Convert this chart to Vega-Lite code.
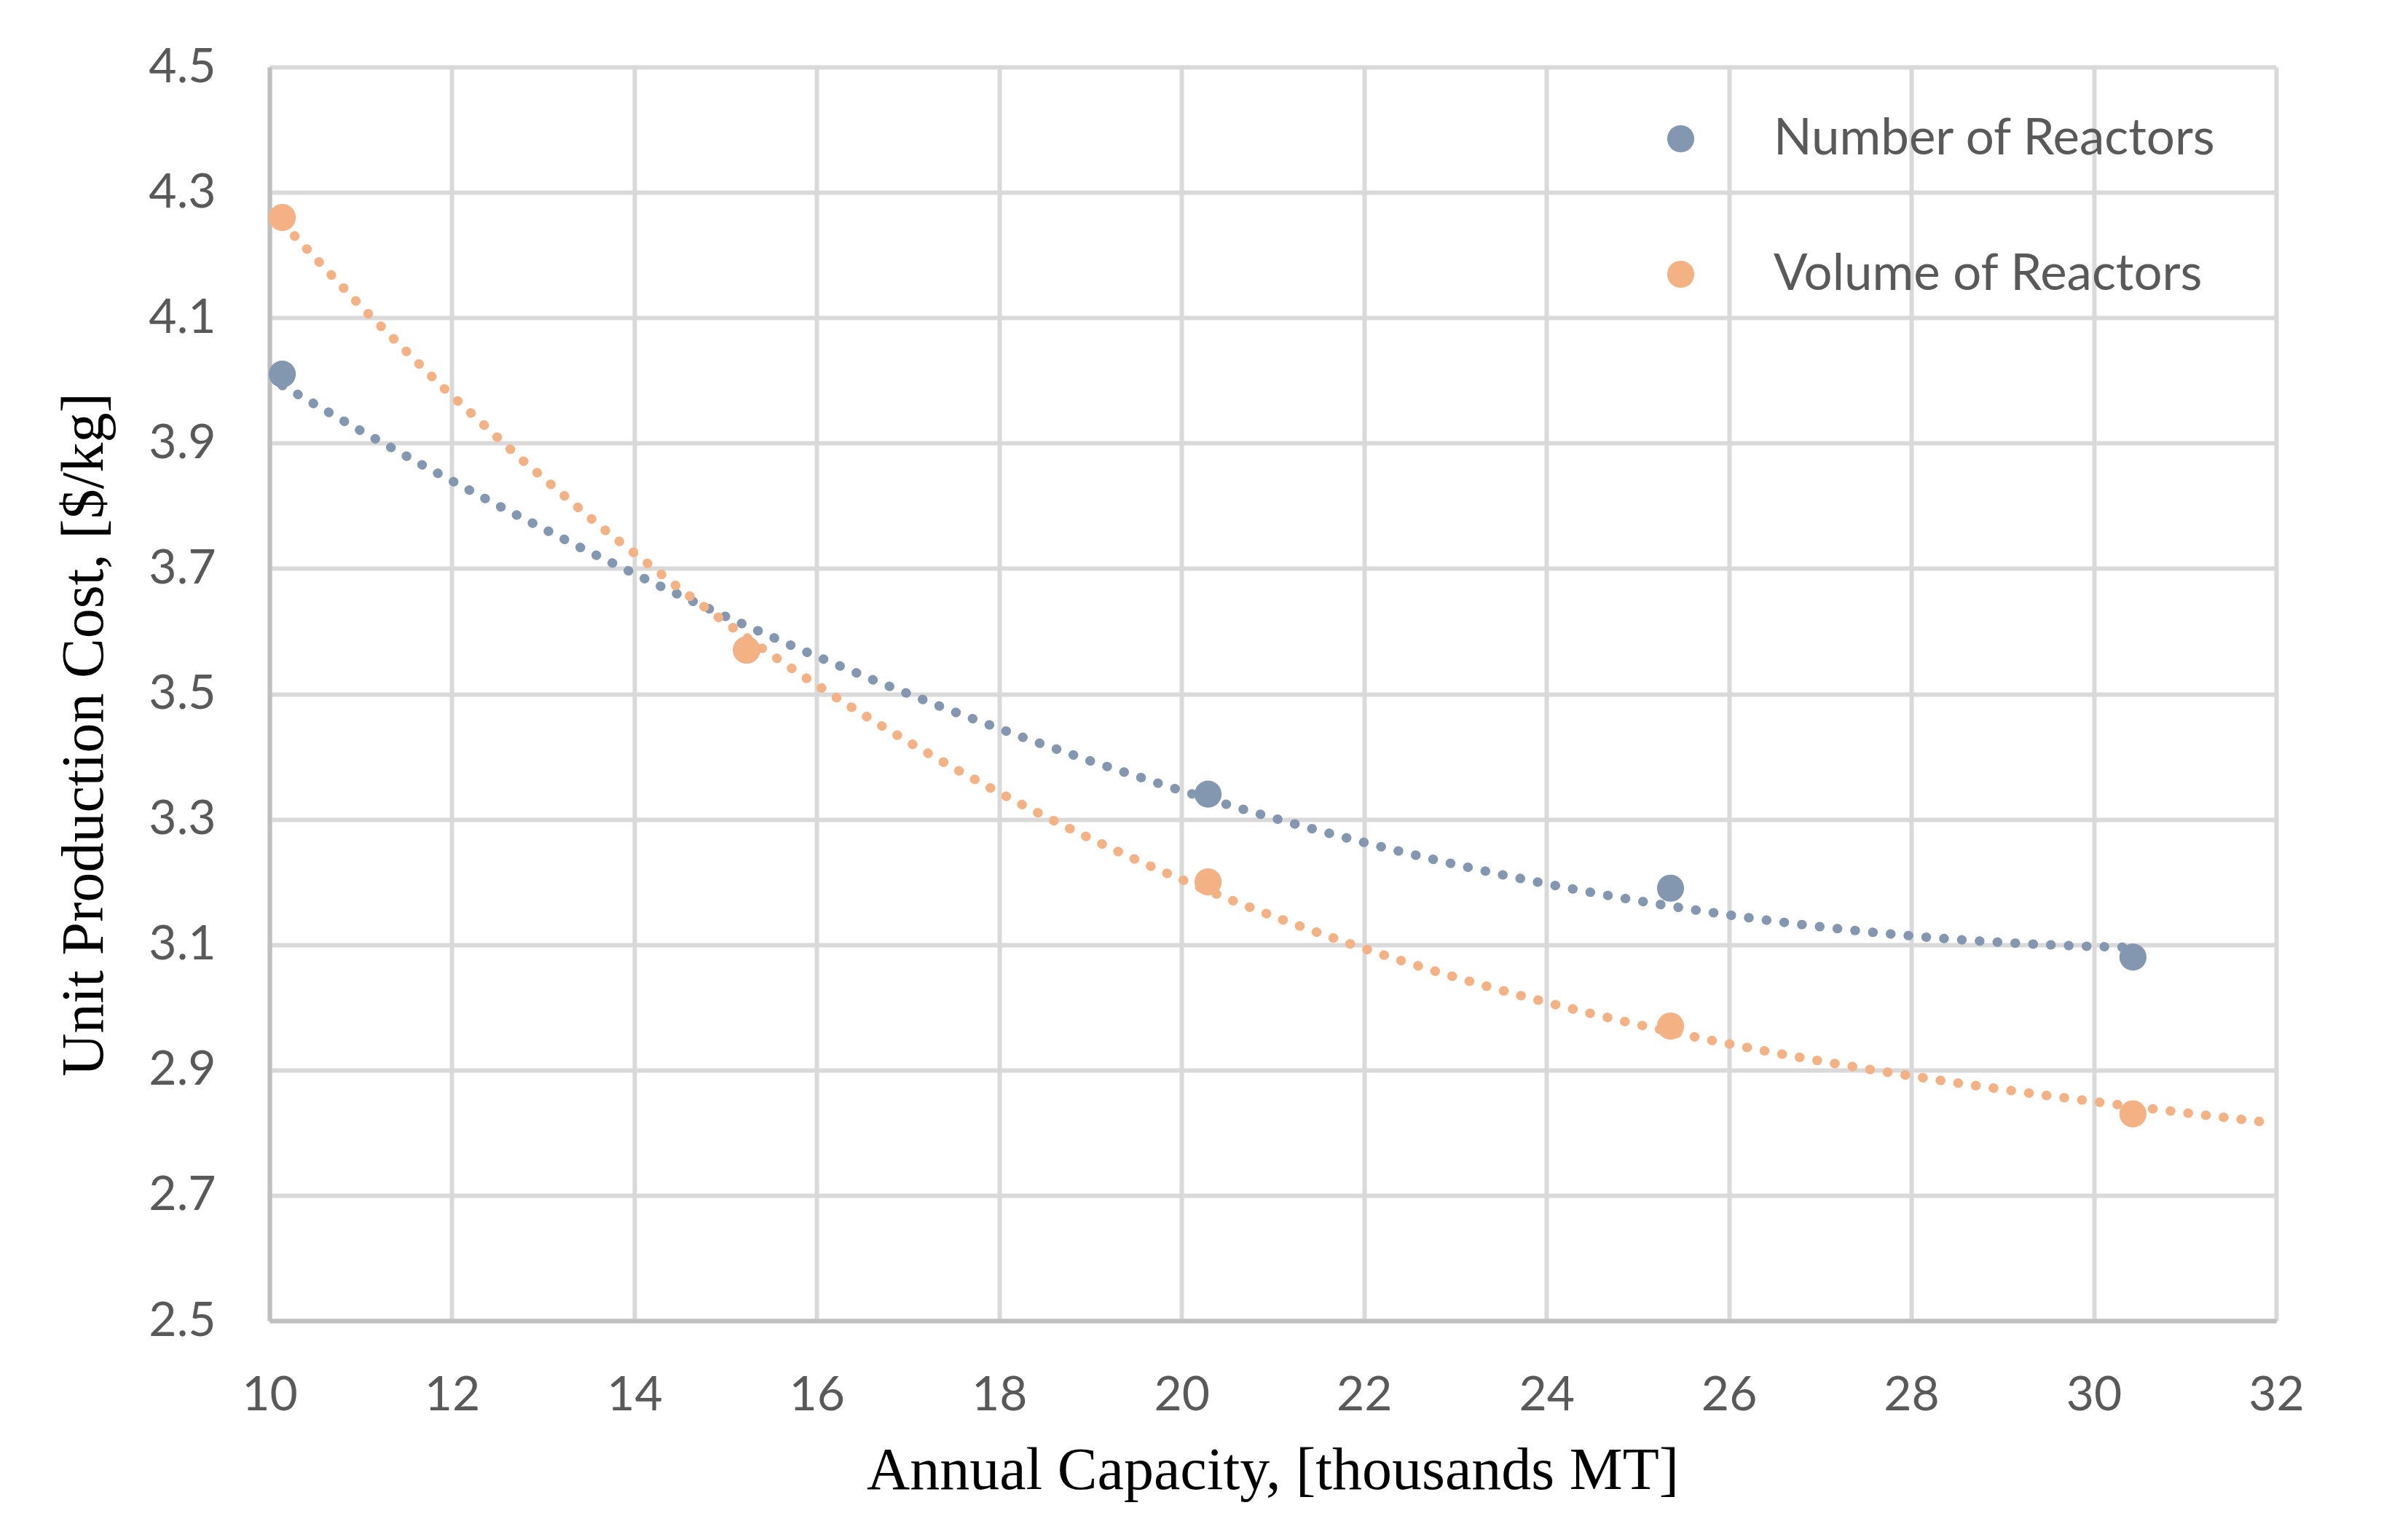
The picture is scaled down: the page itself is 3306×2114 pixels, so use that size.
{
  "$schema": "https://vega.github.io/schema/vega-lite/v6.json",
  "width": 2755,
  "height": 1721,
  "autosize": {"type": "none"},
  "padding": {"left": 370, "top": 92, "right": 181, "bottom": 301},
  "background": "white",
  "config": {
    "view": {"stroke": null},
    "axis": {
      "labelFont": "Lato",
      "labelFontSize": 66,
      "labelColor": "#595959",
      "labelFlush": false,
      "titleFont": "Liberation Serif",
      "titleFontSize": 82,
      "titleFontWeight": "normal",
      "titleColor": "#000000",
      "gridColor": "#D9D9D9",
      "gridWidth": 6,
      "gridOpacity": 1,
      "domainColor": "#BFBFBF",
      "domainWidth": 6,
      "ticks": false,
      "tickSize": 0
    }
  },
  "datasets": {
    "points": [
      {"series": "Number of Reactors", "capacity": 10.14, "cost": 4.01},
      {"series": "Number of Reactors", "capacity": 15.23, "cost": 3.57},
      {"series": "Number of Reactors", "capacity": 20.29, "cost": 3.34},
      {"series": "Number of Reactors", "capacity": 25.36, "cost": 3.19},
      {"series": "Number of Reactors", "capacity": 30.43, "cost": 3.08},
      {"series": "Volume of Reactors", "capacity": 10.14, "cost": 4.26},
      {"series": "Volume of Reactors", "capacity": 15.23, "cost": 3.57},
      {"series": "Volume of Reactors", "capacity": 20.29, "cost": 3.2},
      {"series": "Volume of Reactors", "capacity": 25.36, "cost": 2.97},
      {"series": "Volume of Reactors", "capacity": 30.43, "cost": 2.83}
    ],
    "volumeTrend": [
      {"series": "Volume of Reactors", "capacity": 10.14, "cost": 4.251},
      {"series": "Volume of Reactors", "capacity": 15.23, "cost": 3.591},
      {"series": "Volume of Reactors", "capacity": 20.29, "cost": 3.185},
      {"series": "Volume of Reactors", "capacity": 25.36, "cost": 2.961},
      {"series": "Volume of Reactors", "capacity": 30.43, "cost": 2.843},
      {"series": "Volume of Reactors", "capacity": 31.87, "cost": 2.816}
    ]
  },
  "encoding": {
    "x": {
      "field": "capacity",
      "type": "quantitative",
      "scale": {"domain": [10, 32], "nice": false, "zero": false},
      "axis": {
        "title": "Annual Capacity, [thousands MT]",
        "values": [10, 12, 14, 16, 18, 20, 22, 24, 26, 28, 30, 32],
        "labelBaseline": "alphabetic",
        "labelPadding": 122,
        "titleBaseline": "alphabetic",
        "titleX": 1377,
        "titleY": 230,
        "titleAnchor": "middle"
      }
    },
    "y": {
      "field": "cost",
      "type": "quantitative",
      "scale": {"domain": [2.5, 4.5], "nice": false, "zero": false},
      "axis": {
        "title": "Unit Production Cost, [$/kg]",
        "values": [2.5, 2.7, 2.9, 3.1, 3.3, 3.5, 3.7, 3.9, 4.1, 4.3, 4.5],
        "format": ".1f",
        "labelPadding": 74,
        "titleAngle": 270,
        "titleBaseline": "alphabetic",
        "titleAlign": "center",
        "titleX": -230,
        "titleY": 916
      }
    }
  },
  "layer": [
    {
      "data": {"name": "points"},
      "transform": [
        {"filter": "datum.series === 'Number of Reactors'"},
        {"regression": "cost", "on": "capacity", "method": "poly", "order": 2}
      ],
      "mark": {"type": "line", "stroke": "#8497B0", "strokeWidth": 13, "strokeCap": "round", "strokeDash": [0.5, 24], "clip": true},
      "encoding": {}
    },
    {
      "data": {"name": "volumeTrend"},
      "transform": [
        {"regression": "cost", "on": "capacity", "method": "poly", "order": 3, "extent": [10.14, 32]}
      ],
      "mark": {"type": "line", "stroke": "#F4B183", "strokeWidth": 13, "strokeCap": "round", "strokeDash": [0.5, 24], "clip": true},
      "encoding": {}
    },
    {
      "data": {"name": "points"},
      "mark": {"type": "circle", "opacity": 1, "size": 1385},
      "encoding": {
        "color": {
          "field": "series",
          "type": "nominal",
          "scale": {"domain": ["Number of Reactors", "Volume of Reactors"], "range": ["#8497B0", "#F4B183"]},
          "legend": {
            "title": null,
            "orient": "none",
            "legendX": 1903,
            "legendY": 64,
            "padding": 0,
            "symbolType": "circle",
            "symbolSize": 1385,
            "symbolOpacity": 1,
            "symbolStrokeWidth": 0,
            "labelFont": "Lato",
            "labelFontSize": 69,
            "labelColor": "#595959",
            "labelOffset": 93,
            "rowPadding": 116,
            "labelLimit": 1000
          }
        }
      }
    }
  ]
}
